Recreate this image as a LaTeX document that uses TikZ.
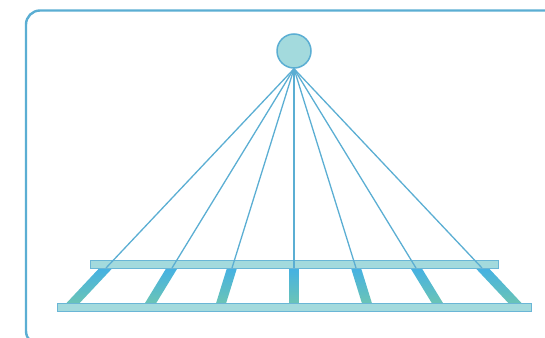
\documentclass[tikz,border=0pt]{standalone}
\usetikzlibrary{calc}
\definecolor{framec}{HTML}{5BAED3}
\definecolor{linec}{HTML}{5BAED3}
\definecolor{barfill}{HTML}{A3DADD}
\definecolor{barline}{HTML}{6AB6D6}
\definecolor{legtop}{HTML}{45B1E3}
\definecolor{legbot}{HTML}{6AC4B6}
\tikzset{
  frame/.style={draw=framec,line width=2.4pt,rounded corners=14pt},
  bar/.style={draw=barline,fill=barfill,line width=1pt},
  hub/.style={circle,draw=linec,fill=barfill,line width=1.5pt,minimum size=34pt,inner sep=0pt},
  wire/.style={draw=linec,line width=1.3pt},
}
\begin{document}
\begin{tikzpicture}[x=1pt,y=-1pt]
\useasboundingbox (0,0) rectangle (545,337);
\clip (0,0) rectangle (545,337);
\draw[frame] (26,10.5) rectangle (570,345);
\node[hub] (c) at (294,51) {};
% legs
\foreach \d in {-188,-122,-62,0,62,122,188}{
  \pgfmathsetmacro\h{4.8*sqrt(1+(\d/200)*(\d/200))}
  \pgfmathsetmacro\xt{294+\d}
  \pgfmathsetmacro\xb{294+\d*1.175}
  \shade[top color=legtop,bottom color=legbot]
    (\xt-\h,268) -- (\xt+\h,268) -- (\xb+\h,303) -- (\xb-\h,303) -- cycle;
}
\draw[bar] (90,260) rectangle (498,268);
\draw[bar] (57,303) rectangle (531,311);
\foreach \d [count=\i] in {-188,-122,-62,0,62,122,188}{
  \coordinate (t\i) at (294+\d,268);
  \draw[wire] (c.south) -- (t\i);
}
\end{tikzpicture}
\end{document}
